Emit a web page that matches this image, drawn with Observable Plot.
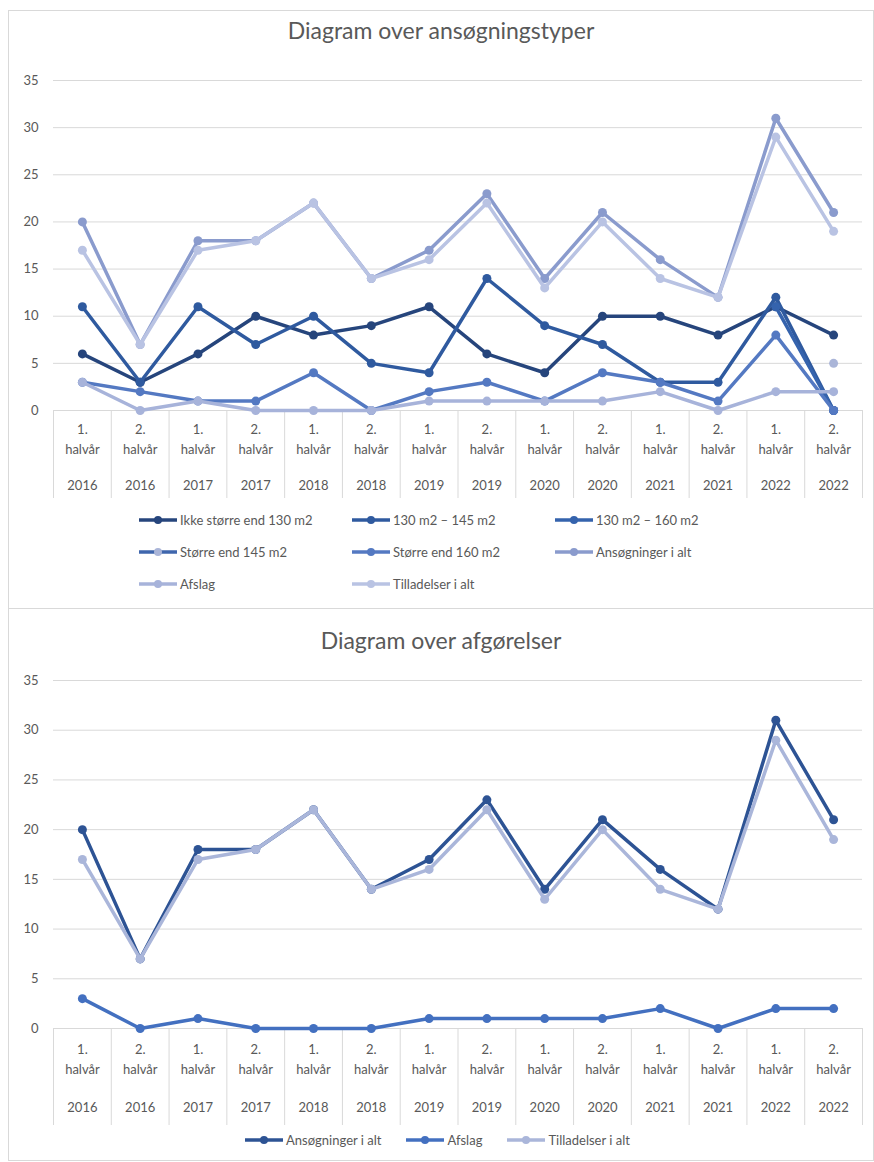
<!DOCTYPE html>
<html><head><meta charset="utf-8">
<script src="https://cdn.jsdelivr.net/npm/d3@7"></script>
<script src="https://cdn.jsdelivr.net/npm/@observablehq/plot@0.6"></script>
<style>
body{margin:0;background:#fff;font-family:Lato,"Open Sans",sans-serif;color:#595959;width:874px;height:1162px;position:relative;overflow:hidden}
.panel{position:absolute;left:8px;width:866px;border:1px solid #d9d9d9;box-sizing:border-box;}
.title{position:absolute;left:8px;width:866px;text-align:center;font-size:23px;color:#595959;line-height:1}
.chart{position:absolute;left:0;}
.legend{position:absolute;font-size:13px;color:#595959;display:grid;}
.item{display:flex;align-items:center;height:32px;white-space:nowrap}
.item svg{margin-right:2px;flex:none}
</style>
</head><body>
<div class="panel" style="top:10px;height:599px"></div>
<div class="panel" style="top:608px;height:553px"></div>
<div class="title" style="top:19px">Diagram over ansøgningstyper</div>
<div class="title" style="top:629px">Diagram over afgørelser</div>
<div id="c1" class="chart" style="top:60px"></div>
<div id="l1" class="legend" style="top:504px;left:138px;grid-template-columns:213px 203px 200px"></div>
<div id="c2" class="chart" style="top:660px"></div>
<div id="l2" class="legend" style="top:1124px;left:0;width:874px;display:flex;justify-content:center;gap:24px"></div>
<script>
// ---- data ----
const halfLabels = ["1.","2.","1.","2.","1.","2.","1.","2.","1.","2.","1.","2.","1.","2."];
const years = ["2016","2016","2017","2017","2018","2018","2019","2019","2020","2020","2021","2021","2022","2022"];
const yTicks = [0,5,10,15,20,25,30,35];

// Diagram over ansøgningstyper
const ikke130    = [6,3,6,10,8,9,11,6,4,10,10,8,11,8];
const m130_145   = [11,3,11,7,10,5,4,14,9,7,3,3,12,0];
const m130_160   = [null,null,null,null,null,null,null,null,null,null,null,null,11,0];
const over145    = [null,null,null,null,null,null,null,null,null,null,null,null,null,5];
const over160    = [3,2,1,1,4,0,2,3,1,4,3,1,8,0];
const ansogninger= [20,7,18,18,22,14,17,23,14,21,16,12,31,21];
const afslag     = [3,0,1,0,0,0,1,1,1,1,2,0,2,2];
const tilladelser= [17,7,17,18,22,14,16,22,13,20,14,12,29,19];

const names1 = ["Ikke større end 130 m2","130 m2 – 145 m2","130 m2 – 160 m2","Større end 145 m2","Større end 160 m2","Ansøgninger i alt","Afslag","Tilladelser i alt"];
const values1 = [ikke130,m130_145,m130_160,over145,over160,ansogninger,afslag,tilladelser];
const colors1 = ["#26457c","#2f5a9f","#3563ad","#3f66ad","#5479c2","#8a9bcd","#a7b3da","#b9c3e3"];
const markers1 = ["#26457c","#2f5a9f","#3563ad","#aab5d8","#5479c2","#8a9bcd","#a7b3da","#b9c3e3"];

// Diagram over afgørelser
const names2 = ["Ansøgninger i alt","Afslag","Tilladelser i alt"];
const values2 = [ansogninger,afslag,tilladelser];
const colors2 = ["#2d5394","#4370c0","#aab6da"];

function rows(vals){ return vals.map((v,i)=>({x:i+0.5,y:v})); }

function chart(names, values, colors, markers, o){
  const centers = d3.range(14).map(i=>i+0.5);
  const marks = [
    Plot.gridY(yTicks,{stroke:"#d9d9d9",strokeOpacity:1}),
    Plot.axisY({ticks:yTicks,tickSize:0,tickPadding:15,label:null,fill:"#595959",fontSize:13}),
    Plot.axisX({ticks:d3.range(15),tickSize:o.tickLen,tickFormat:()=>"",label:null,stroke:"#d9d9d9",strokeOpacity:1}),
    Plot.axisX({ticks:centers,tickSize:0,tickPadding:o.p1,label:null,tickFormat:i=>halfLabels[Math.floor(i)]+"\nhalvår",lineHeight:1.5,fill:"#595959",fontSize:13}),
    Plot.axisX({ticks:centers,tickSize:0,tickPadding:o.p2,label:null,tickFormat:i=>years[Math.floor(i)],fill:"#595959",fontSize:13})
  ];
  values.forEach((vals,k)=>{
    const d = rows(vals);
    marks.push(Plot.line(d,{x:"x",y:"y",stroke:colors[k],strokeWidth:3.5,strokeLinejoin:"round"}));
    marks.push(Plot.dot(d.filter(r=>r.y!=null),{x:"x",y:"y",fill:markers[k],r:4.5}));
  });
  return Plot.plot({
    width:874,height:o.height,marginLeft:53,marginRight:12,marginTop:20,marginBottom:o.mb,
    x:{domain:[0,14],label:null,axis:null},
    y:{domain:[0,35],label:null,axis:null},
    style:{fontFamily:"Lato, 'Open Sans', sans-serif",fontSize:"13px",color:"#595959",background:"transparent"},
    marks
  });
}

function legend(el, names, colors, markers){
  names.forEach((n,k)=>{
    const it=document.createElement("div"); it.className="item";
    it.innerHTML=`<svg width="40" height="10"><line x1="1" x2="39" y1="5" y2="5" stroke="${colors[k]}" stroke-width="3.5"/><circle cx="20" cy="5" r="4" fill="${markers[k]}"/></svg><span>${n}</span>`;
    el.appendChild(it);
  });
}

document.getElementById("c1").appendChild(chart(names1,values1,colors1,markers1,{height:440,mb:90,tickLen:88,p1:10,p2:70}));
document.getElementById("c2").appendChild(chart(names2,values2,colors2,colors2,{height:468,mb:100,tickLen:97,p1:12,p2:74}));
legend(document.getElementById("l1"),names1,colors1,markers1);
legend(document.getElementById("l2"),names2,colors2,colors2);
</script>
</body></html>
